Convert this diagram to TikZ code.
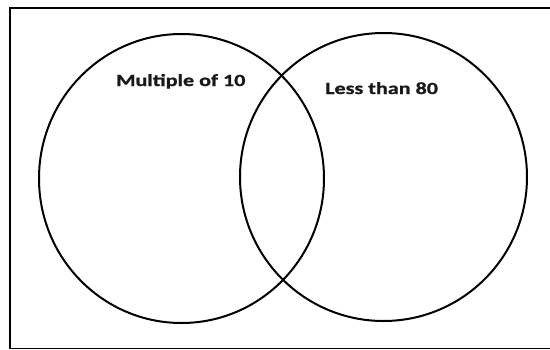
\documentclass[tikz,border=0pt]{standalone}
\usepackage{fontspec}
\setmainfont{Carlito}
\newfontfamily\lblfont[RawFeature={embolden=0.8}]{Carlito}
\begin{document}
\begin{tikzpicture}[x=1pt,y=-1pt,
  frame/.style={draw=black,line width=1.6pt},
  setring/.style={draw=black,line width=2pt},
  setlabel/.style={anchor=base west,inner sep=0pt,font=\lblfont\fontsize{17}{20}\selectfont\bfseries,text=black!90}]
\useasboundingbox (0,0) rectangle (550,349);
\begin{scope}
\clip (0,0) rectangle (550,349);
\draw[frame] (10,8) rectangle (556,348.5);
\end{scope}
\draw[setring] (181.5,178.5) ellipse [x radius=142.5, y radius=144.5];
\draw[setring] (383.5,177) ellipse [x radius=143.5, y radius=144];
\node[setlabel] (mult) at (116,86) {\scalebox{1.3}[1]{Multiple of 10}};
\node[setlabel] (less) at (325,94) {\scalebox{1.3}[1]{Less than 80}};
\end{tikzpicture}
\end{document}
